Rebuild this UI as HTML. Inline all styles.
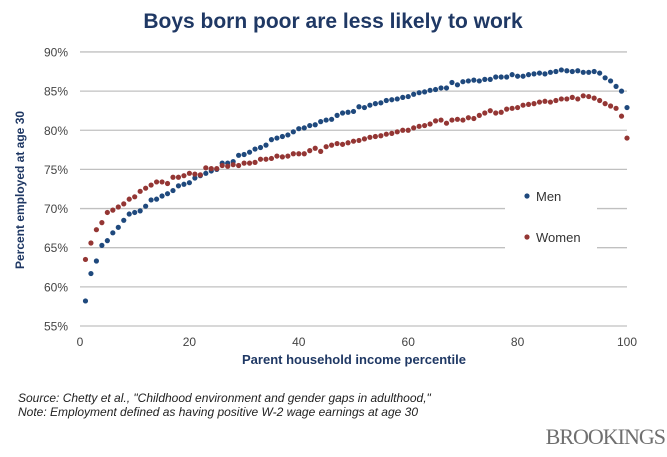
<!DOCTYPE html>
<html><head><meta charset="utf-8"><style>
body{margin:0;background:#fff;font-family:"Liberation Sans",sans-serif}
</style></head><body>
<svg width="667" height="452" font-family="Liberation Sans, sans-serif">
<text x="333" y="28" text-anchor="middle" font-size="21" font-weight="bold" fill="#1f3864">Boys born poor are less likely to work</text>
<g id="grid"></g><g id="marks"></g>
<rect x="505" y="180" width="92" height="75" fill="#fff"/>
<circle cx="527" cy="196" r="2.6" fill="#1f497d"/>
<text x="536" y="201" font-size="13" fill="#333">Men</text>
<circle cx="527" cy="237" r="2.6" fill="#943634"/>
<text x="536" y="242" font-size="13" fill="#333">Women</text>
<text x="354" y="364" text-anchor="middle" font-size="13" font-weight="bold" fill="#1f3864">Parent household income percentile</text>
<text transform="translate(24,190) rotate(-90)" text-anchor="middle" font-size="12" font-weight="bold" fill="#1f3864">Percent employed at age 30</text>
<text x="18" y="402" font-size="12" font-style="italic" fill="#222">Source: Chetty et al., "Childhood environment and gender gaps in adulthood,"</text>
<text x="18" y="416" font-size="12" font-style="italic" fill="#222">Note: Employment defined as having positive W-2 wage earnings at age 30</text>
<text x="665" y="444" text-anchor="end" font-family="Liberation Serif, serif" font-size="22" fill="#6f6f6f" letter-spacing="-1">BROOKINGS</text>
</svg>
<script>
const yTicks=[55,60,65,70,75,80,85,90];
const xTicks=[0,20,40,60,80,100];
const men=[58.2,61.7,63.3,65.3,65.9,66.9,67.6,68.5,69.3,69.5,69.7,70.3,71.1,71.2,71.6,71.9,72.3,72.9,73.1,73.3,73.9,74.2,74.5,74.8,75.0,75.8,75.8,76.0,76.8,76.9,77.2,77.6,77.8,78.1,78.8,79.0,79.2,79.4,79.8,80.2,80.3,80.6,80.7,81.1,81.3,81.4,81.9,82.2,82.3,82.4,83.0,82.9,83.2,83.4,83.5,83.8,83.9,84.0,84.2,84.3,84.6,84.8,84.9,85.1,85.2,85.4,85.4,86.1,85.8,86.2,86.3,86.4,86.3,86.5,86.5,86.8,86.8,86.8,87.1,86.9,86.9,87.1,87.2,87.3,87.2,87.4,87.5,87.7,87.6,87.5,87.6,87.4,87.4,87.5,87.3,86.7,86.3,85.6,85.0,82.9];
const women=[63.5,65.6,67.3,68.2,69.5,69.8,70.2,70.6,71.2,71.5,72.2,72.6,73.0,73.4,73.4,73.2,74.0,74.0,74.2,74.5,74.4,74.3,75.2,75.1,75.1,75.5,75.4,75.6,75.5,75.8,75.8,75.9,76.3,76.3,76.4,76.7,76.6,76.7,77.0,77.0,77.0,77.4,77.7,77.3,77.9,78.1,78.3,78.2,78.4,78.6,78.7,78.9,79.1,79.2,79.3,79.5,79.6,79.8,80.0,80.0,80.3,80.5,80.6,80.8,81.2,81.3,80.9,81.3,81.4,81.3,81.6,81.5,81.9,82.2,82.5,82.2,82.3,82.7,82.8,82.9,83.2,83.3,83.4,83.6,83.7,83.6,83.8,84.0,84.0,84.2,84.0,84.4,84.3,84.1,83.8,83.4,83.1,82.8,81.8,79.0];
const NS='http://www.w3.org/2000/svg';
const X=v=>80+v*5.47, Y=v=>326-(v-55)*7.83;
const grid=document.getElementById('grid'), marks=document.getElementById('marks');
function mk(tag,attrs,parent,txt){const e=document.createElementNS(NS,tag);for(const k in attrs)e.setAttribute(k,attrs[k]);if(txt!==undefined)e.textContent=txt;parent.appendChild(e);return e;}
yTicks.forEach(t=>{
  const l=mk('line',{x1:80,x2:627,y1:Y(t),y2:Y(t),stroke:'#c0c0c0','stroke-width':1.3},grid);
  
  
  const tx=mk('text',{x:68,y:Y(t)+4.5,'text-anchor':'end','font-size':12,fill:'#444'},grid,t+'%');
  
  
});
xTicks.forEach(t=>{
  const tx=mk('text',{x:X(t),y:346,'text-anchor':'middle','font-size':12,fill:'#444'},grid,t);
  
  
});
men.forEach((v,i)=>{
  const c=mk('circle',{cx:X(i+1),cy:Y(v),r:2.6,fill:'#1f497d'},marks);
  
  
});
women.forEach((v,i)=>{
  const c=mk('circle',{cx:X(i+1),cy:Y(v),r:2.6,fill:'#943634'},marks);
  
  
});
</script>
</body></html>
